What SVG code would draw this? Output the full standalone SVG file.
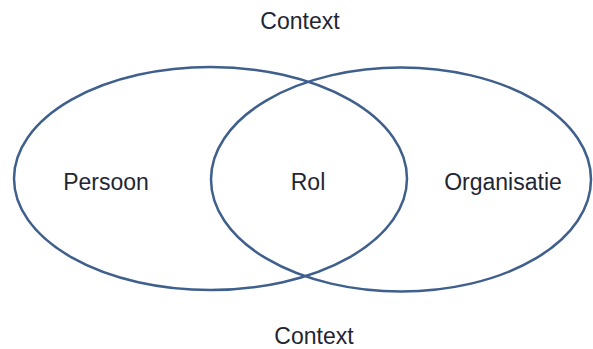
<svg xmlns="http://www.w3.org/2000/svg" width="593" height="349" viewBox="0 0 593 349">
<style>
.set{fill:none;stroke:#3f5f8c;stroke-width:2.5}
.lbl{font-family:"Liberation Sans",Arial,sans-serif;font-size:23px;fill:#1f2633;text-anchor:middle}
</style>
<rect width="593" height="349" fill="#ffffff"/>
<g id="persoon">
<ellipse class="set" cx="210.5" cy="178.5" rx="196.5" ry="111.5"/>
<text class="lbl" x="106" y="190">Persoon</text>
</g>
<g id="organisatie">
<ellipse class="set" cx="401" cy="179.5" rx="190" ry="112"/>
<text class="lbl" x="503" y="190">Organisatie</text>
</g>
<g id="rol">
<text class="lbl" x="308" y="190">Rol</text>
</g>
<g id="context-top">
<text class="lbl" x="300" y="29">Context</text>
</g>
<g id="context-bottom">
<text class="lbl" x="314" y="344">Context</text>
</g>
<g id="connectors"></g>
</svg>
